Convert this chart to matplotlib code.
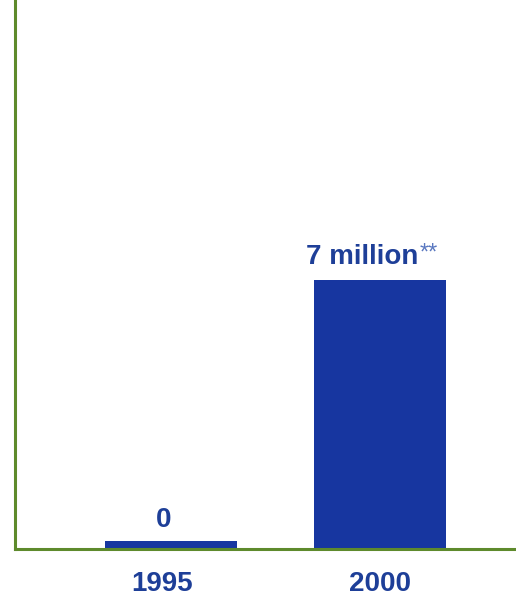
import matplotlib
matplotlib.use("Agg")
import matplotlib.pyplot as plt
import matplotlib.transforms as mtransforms
import numpy as np

years = ["1995", "2000"]
values = [0.0, 7.0]            # millions
value_labels = ["0", "7 million"]
min_visible = 0.22             # the zero bar is still drawn as a thin strip

bar_color = "#1736a0"
text_color = "#1e3f98"
spine_color = "#5e8a2c"

plt.rcParams["font.family"] = ["Liberation Sans", "DejaVu Sans"]

fig = plt.figure(figsize=(5.16, 5.97), dpi=100)
ax = fig.add_axes([15 / 516, 48 / 597, 1 - 15 / 516, 1 - 48 / 597])

x = np.arange(len(years))
heights = np.maximum(values, min_visible)
bars = ax.bar(x, heights, width=0.63, color=bar_color, zorder=2)

ax.set_xlim(-0.746, 1.651)
ax.set_ylim(0, 14.3)

for spine in ["top", "right"]:
    ax.spines[spine].set_visible(False)
for spine in ["left", "bottom"]:
    ax.spines[spine].set_color(spine_color)
    ax.spines[spine].set_linewidth(2.2)
    ax.spines[spine].set_zorder(3)

ax.set_yticks([])
ax.set_xticks(x)
ax.set_xticklabels(years, fontsize=20, fontweight="bold", color=text_color)
ax.tick_params(axis="x", length=0, pad=16)
# the 1995 label sits slightly left of its bar in the original
shift = mtransforms.ScaledTranslation(-9 / 100, 0, fig.dpi_scale_trans)
ax.get_xticklabels()[0].set_transform(ax.get_xticklabels()[0].get_transform() + shift)

b0, b1 = bars
c0 = b0.get_x() + b0.get_width() / 2
c1 = b1.get_x() + b1.get_width() / 2
ax.annotate(value_labels[0], (c0, b0.get_height()), xytext=(-5, 9.4),
            textcoords="offset points", ha="center", va="baseline",
            fontsize=20, fontweight="bold", color=text_color)
ax.annotate(value_labels[1], (c1, b1.get_height()), xytext=(27.4, 11.5),
            textcoords="offset points", ha="right", va="baseline",
            fontsize=20, fontweight="bold", color=text_color)
ax.annotate("**", (c1, b1.get_height()), xytext=(28.8, 27.5),
            textcoords="offset points", ha="left", va="top",
            fontsize=17, color="#5a78c0")

fig.savefig("out.png", dpi=100)
